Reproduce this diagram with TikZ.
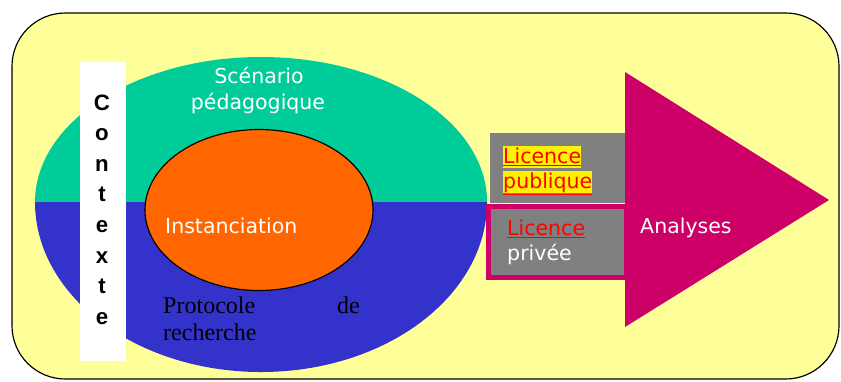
\documentclass[tikz,border=0pt]{standalone}
\usepackage{fontspec}
\setmainfont{Liberation Serif}
\setsansfont{DejaVu Sans}
\newfontfamily\arialb{Liberation Sans}
\usetikzlibrary{shapes}
\definecolor{fond}{HTML}{FFFF99}
\definecolor{vert}{HTML}{00CC99}
\definecolor{bleu}{HTML}{3333CC}
\definecolor{orangeinst}{HTML}{FF6600}
\definecolor{rose}{HTML}{CC0066}
\definecolor{gris}{HTML}{808080}
\definecolor{rouge}{HTML}{FF0000}

\begin{document}
\begin{tikzpicture}[x=0.03cm,y=-0.03cm]
\tikzstyle{etiq}=[font=\sffamily\fontsize{17.5}{23}\selectfont, text=white, inner sep=0pt, anchor=base west];
\tikzstyle{licence}=[etiq, text=rouge];
\tikzstyle{lettre}=[font=\arialb\bfseries\fontsize{19}{23}\selectfont, inner sep=0pt, anchor=base];
\tikzstyle{serif}=[font=\fontsize{20.5}{23}\selectfont, inner sep=0pt, anchor=base west];
\useasboundingbox (0,0) rectangle (841,381);
   \draw[line width=1pt, fill=fond, rounded corners=1.6cm] (12,13) rectangle (839,379);
   % le grand ovale en deux moities
   \fill[vert] (35,202) arc[start angle=180, end angle=0, x radius=6.78cm, y radius=4.35cm] -- cycle;
   \fill[bleu] (35,202) arc[start angle=180, end angle=360, x radius=6.78cm, y radius=5.1cm] -- cycle;
   \node[draw, ellipse, fill=orangeinst, line width=1pt, minimum width=6.84cm, minimum height=4.83cm, inner sep=0pt] (inst) at (259,210) {};
   \node[etiq, anchor=base] (scen1) at (259,83) {Scénario};
   \node[etiq, anchor=base] (scen2) at (258,109) {pédagogique};
   \node[etiq] (instlbl) at (165,233) {Instanciation};
   \node[serif] (proto) at (163,313) {Protocole};
   \node[serif, anchor=base east] (de) at (360,313) {de};
   \node[serif] (rech) at (163,340) {recherche};
   % contexte
   \fill[white] (80,62) rectangle (126,361);
  \foreach \l [count=\i] in {C,o,n,t,e,x,t,e}
    \node[lettre] (ctx\i) at (102,{110+30.6*(\i-1)}) {\l};
   % licences
   \fill[gris] (490,133) rectangle (625,203);
   \draw[rose, line width=4.3pt, fill=gris] (488.5,206.5) rectangle (627,277.5);
   \node[licence, fill=yellow, text height=14.5pt, text depth=4pt] (lpub1) at (503,163) {\underline{Licence}};
   \node[licence, fill=yellow, text height=14.5pt, text depth=4.5pt] (lpub2) at (503,188) {\underline{publique}};
   \node[licence] (lpriv1) at (507,235) {\underline{Licence}};
   \node[etiq] (lpriv2) at (507,260) {privée};
   % fleche
   \fill[rose] (625,72) -- (829,200) -- (625,327) -- cycle;
   \node[etiq] (ana) at (640,233) {Analyses};
\end{tikzpicture}
\end{document}
